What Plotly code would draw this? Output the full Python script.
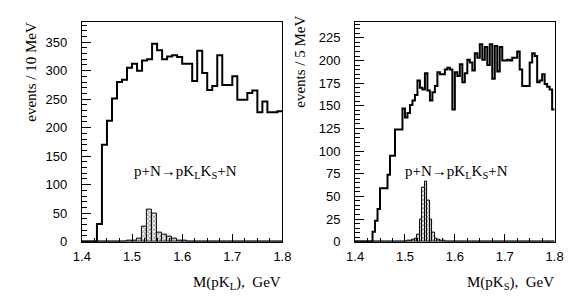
import plotly.graph_objects as go

# ---------------- data ----------------
# left panel: M(pK_L), 10 MeV bins from 1.40 to 1.80
left_edges_start = 1.40
left_bin = 0.010
left_main = [0, 0, 0, 31, 170, 212, 251, 280, 284, 305,
             312, 300, 318, 320, 347, 336, 320, 325, 327, 324,
             312, 312, 282, 335, 296, 266, 273, 327, 275, 275,
             290, 249, 249, 261, 265, 227, 246, 227, 227, 229]
left_hatch = [0, 0, 0, 0, 0, 0, 0, 0, 0, 1,
              2, 6, 27, 56, 49, 16, 12, 8, 5, 2,
              1, 0, 0, 0, 0, 0, 0, 0, 0, 0,
              0, 0, 0, 0, 0, 0, 0, 0, 0, 0]

# right panel: M(pK_S), 5 MeV bins from 1.40 to 1.80
right_edges_start = 1.40
right_bin = 0.005
right_main = [0, 0, 0, 0, 0, 0, 0, 11, 23, 36,
              59, 59, 59, 74, 95, 95, 124, 124, 124, 147,
              137, 142, 151, 156, 162, 178, 170, 168, 186, 167,
              156, 165, 172, 187, 185, 185, 190, 192, 190, 146,
              187, 183, 196, 176, 186, 201, 198, 189, 208, 203,
              218, 201, 215, 195, 218, 180, 216, 188, 215, 200,
              200, 201, 200, 203, 203, 210, 190, 172, 172, 172,
              198, 208, 205, 176, 178, 185, 174, 171, 168, 146]
right_hatch = [0, 0, 0, 0, 0, 0, 0, 0, 0, 0,
               0, 0, 0, 0, 0, 0, 0, 0, 0, 0,
               0, 1, 1, 2, 3, 8, 24, 60, 66, 45,
               24, 10, 3, 2, 1, 1, 0, 0, 0, 0,
               0, 0, 0, 0, 0, 0, 0, 0, 0, 0,
               0, 0, 0, 0, 0, 0, 0, 0, 0, 0,
               0, 0, 0, 0, 0, 0, 0, 0, 0, 0,
               0, 0, 0, 0, 0, 0, 0, 0, 0, 0]

x_tickvals = [1.4, 1.5, 1.6, 1.7, 1.8]
x_ticktext = ["1.4", "1.5", "1.6", "1.7", "1.8"]
left_ytickvals = [0, 50, 100, 150, 200, 250, 300, 350]
right_ytickvals = [0, 25, 50, 75, 100, 125, 150, 175, 200, 225]

left_ytitle = "events / 10 MeV"
right_ytitle = "events / 5 MeV"
left_xtitle = "M(pK<sub>L</sub>),  GeV"
right_xtitle = "M(pK<sub>S</sub>),  GeV"
reaction = "p+N→pK<sub>L</sub>K<sub>S</sub>+N"

# ---------------- figure ----------------
W, H = 575, 303
fig = go.Figure()


def step_trace(start, width, vals, xa, ya):
    n = len(vals)
    xs = [start + i * width for i in range(n)] + [start + n * width]
    ys = list(vals) + [vals[-1]]
    return go.Scatter(x=xs, y=ys, mode="lines", line=dict(color="black", width=2, shape="hv"),
                      xaxis=xa, yaxis=ya, hoverinfo="skip", showlegend=False)


def hatch_trace(start, width, vals, xa, ya):
    n = len(vals)
    xs = [start + (i + 0.5) * width for i in range(n)]
    return go.Bar(x=xs, y=vals, width=width, xaxis=xa, yaxis=ya, showlegend=False,
                  marker=dict(color="white", line=dict(color="black", width=1),
                              pattern=dict(shape="x", fgcolor="#333333", bgcolor="white",
                                           size=3, solidity=0.5, fillmode="overlay")),
                  hoverinfo="skip")


fig.add_trace(hatch_trace(left_edges_start, left_bin, left_hatch, "x", "y"))
fig.add_trace(step_trace(left_edges_start, left_bin, left_main, "x", "y"))
fig.add_trace(hatch_trace(right_edges_start, right_bin, right_hatch, "x2", "y2"))
fig.add_trace(step_trace(right_edges_start, right_bin, right_main, "x2", "y2"))

tickfont = dict(family="Liberation Sans, Arial, sans-serif", size=13, color="black")
serif = dict(family="Liberation Serif, Times New Roman, serif", size=15, color="black")

xcommon = dict(range=[1.4, 1.8], tickvals=x_tickvals, ticktext=x_ticktext, ticks="inside",
               ticklen=8, tickwidth=1, tickcolor="black", showline=True, linecolor="black",
               linewidth=1, mirror=True, showgrid=False, zeroline=False, tickfont=tickfont,
               ticklabelstandoff=3,
               minor=dict(dtick=0.025, ticks="inside", ticklen=4, tickcolor="black", tickwidth=1,
                          showgrid=False))

ycommon = dict(ticks="inside", ticklen=9, tickwidth=1, tickcolor="black",
               showline=True, linecolor="black", linewidth=1, mirror=True, showgrid=False,
               zeroline=False, tickfont=tickfont, ticklabelstandoff=11)

fig.update_layout(
    width=W, height=H, margin=dict(l=0, r=0, t=0, b=0),
    paper_bgcolor="white", plot_bgcolor="white", bargap=0,
    xaxis=dict(domain=[67 / W, 274 / W], anchor="y", **xcommon),
    xaxis2=dict(domain=[349 / W, 555 / W], anchor="y2", **xcommon),
    yaxis=dict(domain=[1 - 240 / H, 1 - 14 / H], anchor="x", range=[0, 386],
               tickvals=left_ytickvals,
               minor=dict(dtick=10, ticks="inside", ticklen=5, tickcolor="black", tickwidth=1,
                          showgrid=False), **ycommon),
    yaxis2=dict(domain=[1 - 240 / H, 1 - 14 / H], anchor="x2", range=[0, 243],
                tickvals=right_ytickvals,
                minor=dict(dtick=5, ticks="inside", ticklen=5, tickcolor="black", tickwidth=1,
                           showgrid=False), **ycommon),
)

ann = []
ann.append(dict(text=left_ytitle, x=14.5 / W, y=1 - 12 / H, xref="paper", yref="paper",
                xanchor="center", yanchor="top", textangle=-90, showarrow=False, font=serif))
ann.append(dict(text=right_ytitle, x=292 / W, y=1 - 6 / H, xref="paper", yref="paper",
                xanchor="center", yanchor="top", textangle=-90, showarrow=False, font=serif))
ann.append(dict(text=left_xtitle, x=275 / W, y=1 - 282 / H, xref="paper", yref="paper",
                xanchor="right", yanchor="middle", showarrow=False, font=serif))
ann.append(dict(text=right_xtitle, x=556 / W, y=1 - 282 / H, xref="paper", yref="paper",
                xanchor="right", yanchor="middle", showarrow=False, font=serif))
ann.append(dict(text=reaction, x=174 / W, y=1 - 168 / H, xref="paper", yref="paper",
                xanchor="center", yanchor="middle", showarrow=False, font=serif))
ann.append(dict(text=reaction, x=454 / W, y=1 - 168 / H, xref="paper", yref="paper",
                xanchor="center", yanchor="middle", showarrow=False, font=serif))
fig.update_layout(annotations=ann)

fig.write_html("out.html")
